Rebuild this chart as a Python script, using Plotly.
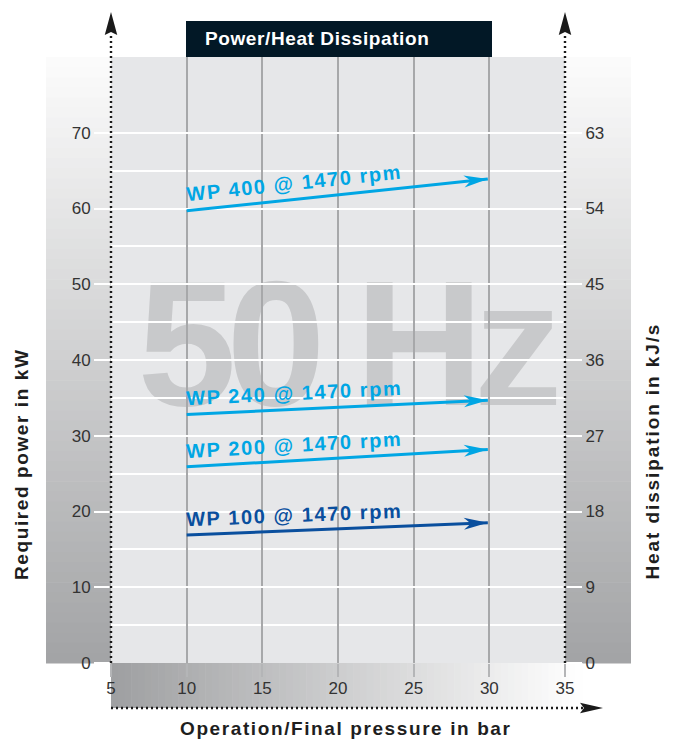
import math
import plotly.graph_objects as go

# ---------------- data ----------------
x_ticks = [5, 10, 15, 20, 25, 30, 35]
power_ticks = [0, 10, 20, 30, 40, 50, 60, 70]
power_minor = [5, 15, 25, 35, 45, 55, 65]
heat_ticks = [0, 9, 18, 27, 36, 45, 54, 63]

series_names = ["WP 400 @ 1470 rpm", "WP 240 @ 1470 rpm",
                "WP 200 @ 1470 rpm", "WP 100 @ 1470 rpm"]
pressure_start = [10, 10, 10, 10]
pressure_end = [29.9, 29.9, 29.9, 29.9]
power_start = [59.7, 32.8, 25.9, 16.9]
power_end = [63.9, 34.7, 28.2, 18.5]

chart_title = "Power/Heat Dissipation"
watermark = "50 Hz"
x_title = "Operation/Final pressure in bar"
y_title = "Required power in kW"
y2_title = "Heat dissipation in kJ/s"

# ---------------- style / layout (screen pixels) ----------------
series_colors = ["#00a6e4", "#00a6e4", "#00a6e4", "#0a4f9e"]
OFF = 8                      # page body margin
SCREEN_W, SCREEN_H = 675, 740
W, H = SCREEN_W - OFF, SCREEN_H - OFF
PLOT_L, PLOT_R, PLOT_T, PLOT_B = 111, 565, 57, 663
ML, MT = PLOT_L - OFF, PLOT_T - OFF
MR, MB = SCREEN_W - PLOT_R, SCREEN_H - PLOT_B
PW, PH = PLOT_R - PLOT_L, PLOT_B - PLOT_T
X_RANGE = [5, 35]
Y_RANGE = [0, 80]
Y2_RANGE = [0, 72]
SX = PW / (X_RANGE[1] - X_RANGE[0])
SY = PH / (Y_RANGE[1] - Y_RANGE[0])
FONT = "Liberation Sans, Arial, Roboto, sans-serif"
LABEL_X = 17.1


def xp(px):
    return (px - PLOT_L) / PW


def yp(py):
    return (PLOT_B - py) / PH


def mix(c1, c2, t):
    return "rgb(%d,%d,%d)" % tuple(round(a + (b - a) * t) for a, b in zip(c1, c2))


def head_path(theta, L, Wd, N):
    pts = [(0, 0), (-L, Wd / 2), (-N, 0), (-L, -Wd / 2)]
    c, s = math.cos(theta), math.sin(theta)
    rp = [(x * c - y * s, x * s + y * c) for x, y in pts]
    return "M " + " L ".join("%.2f,%.2f" % p for p in rp) + " Z"


def spaced(text, ls):
    return '<span style="letter-spacing:%.1fpx">%s</span>' % (ls, text)


shapes = []
# side gradient strips
N = 60
top_c, bot_c = (252, 252, 252), (162, 163, 165)
for i in range(N):
    y0 = PLOT_T + PH * i / N
    y1 = PLOT_T + PH * (i + 1) / N + 0.6
    col = mix(top_c, bot_c, (i + 0.5) / N)
    for xa, xb in [(46, PLOT_L), (PLOT_R, 631)]:
        shapes.append(dict(type="rect", xref="paper", yref="paper",
                           x0=xp(xa), x1=xp(xb), y0=yp(y0), y1=yp(y1),
                           fillcolor=col, line=dict(width=0), layer="below"))
# bottom band gradient
NB = 70
lc, rc = (158, 159, 161), (255, 255, 255)
for i in range(NB):
    xa = PLOT_L + (582 - PLOT_L) * i / NB
    xb = PLOT_L + (582 - PLOT_L) * (i + 1) / NB + 0.6
    shapes.append(dict(type="rect", xref="paper", yref="paper",
                       x0=xp(xa), x1=xp(xb), y0=yp(PLOT_B), y1=yp(708),
                       fillcolor=mix(lc, rc, (i + 0.5) / NB), line=dict(width=0),
                       layer="below"))
# watermark
shapes.append(dict(type="rect", xref="paper", yref="paper",
                   x0=xp(140), x1=xp(550), y0=yp(426), y1=yp(226),
                   fillcolor="rgba(0,0,0,0)", line=dict(width=0), layer="below",
                   label=dict(text=spaced(watermark, -10),
                              font=dict(family=FONT, size=178, color="#c8c9cb",
                                        weight="bold"),
                              textposition="middle center")))
# title box
shapes.append(dict(type="rect", xref="paper", yref="paper",
                   x0=xp(186), x1=xp(492), y0=yp(57), y1=yp(21),
                   fillcolor="#021826", line=dict(width=0), layer="above"))

# dotted axes
dot = dict(color="#1a1a1a", width=2.4, dash="2px,3px")
for xa in (PLOT_L, PLOT_R):
    shapes.append(dict(type="line", xref="paper", yref="paper",
                       x0=xp(xa), x1=xp(xa), y0=0, y1=yp(33), line=dot, layer="above"))
    shapes.append(dict(type="path", xref="paper", yref="paper",
                       xsizemode="pixel", ysizemode="pixel",
                       xanchor=xp(xa), yanchor=yp(12),
                       path=head_path(math.pi / 2, 23, 12.5, 20),
                       fillcolor="#1a1a1a", line=dict(width=0), layer="above"))
shapes.append(dict(type="line", xref="paper", yref="paper",
                   x0=0, x1=xp(583), y0=yp(708), y1=yp(708), line=dot, layer="above"))
shapes.append(dict(type="path", xref="paper", yref="paper",
                   xsizemode="pixel", ysizemode="pixel",
                   xanchor=xp(603), yanchor=yp(708),
                   path=head_path(0, 23, 10.5, 19),
                   fillcolor="#1a1a1a", line=dict(width=0), layer="above"))

fig = go.Figure()
annotations = []
for name, xs, xe, ys, ye, col in zip(series_names, pressure_start, pressure_end,
                                     power_start, power_end, series_colors):
    fig.add_trace(go.Scatter(x=[xs, xe], y=[ys, ye], mode="lines",
                             line=dict(color=col, width=3), hoverinfo="skip",
                             showlegend=False))
    theta = math.atan2((ye - ys) * SY, (xe - xs) * SX)
    shapes.append(dict(type="path", xref="x", yref="y",
                       xsizemode="pixel", ysizemode="pixel",
                       xanchor=xe, yanchor=ye,
                       path=head_path(theta, 24, 12, 17),
                       fillcolor=col, line=dict(width=0), layer="above"))
    ymid = ys + (ye - ys) * (LABEL_X - xs) / (xe - xs)
    annotations.append(dict(x=LABEL_X, y=ymid, xref="x", yref="y",
                            text=spaced(name, 1.6), showarrow=False,
                            textangle=-math.degrees(theta), yshift=16,
                            xanchor="center", yanchor="middle",
                            font=dict(family=FONT, size=20, color=col,
                                      weight="bold")))

# invisible trace on secondary axis
fig.add_trace(go.Scatter(x=[X_RANGE[0]], y=[0], yaxis="y2", mode="markers",
                         marker=dict(opacity=0), hoverinfo="skip", showlegend=False))

bold19 = dict(family=FONT, size=19, color="#1e1e1e", weight="bold")
annotations += [
    dict(x=xp(203), y=yp(39), xref="paper", yref="paper", showarrow=False,
         text=spaced(chart_title, 0.6), xanchor="left", yanchor="middle",
         font=dict(family=FONT, size=19, color="white", weight="bold")),
    dict(x=xp(21), y=yp(582), xref="paper", yref="paper", showarrow=False,
         text=spaced(y_title, 1.65), textangle=-90, xanchor="center",
         yanchor="bottom", font=bold19),
    dict(x=xp(652), y=yp(582), xref="paper", yref="paper", showarrow=False,
         text=spaced(y2_title, 1.9), textangle=-90, xanchor="center",
         yanchor="bottom", font=bold19),
    dict(x=xp(346), y=yp(728), xref="paper", yref="paper", showarrow=False,
         text=spaced(x_title, 1.6), xanchor="center", yanchor="middle",
         font=bold19),
]

tickfont = dict(family=FONT, size=17, color="#333333")
fig.update_layout(
    width=W, height=H, margin=dict(l=ML, r=MR, t=MT, b=MB, pad=0),
    paper_bgcolor="white", plot_bgcolor="#e6e7e9",
    showlegend=False, shapes=shapes, annotations=annotations,
    xaxis=dict(range=X_RANGE, tickmode="array", tickvals=x_ticks,
               showgrid=True, gridcolor="#a7a8aa", gridwidth=2,
               ticks="outside", ticklen=13, tickwidth=2, tickcolor="#b4b5b7",
               ticklabelstandoff=-3,
               tickfont=tickfont, zeroline=False, showline=False, fixedrange=True),
    yaxis=dict(range=Y_RANGE, tickmode="array", tickvals=power_ticks,
               showgrid=True, gridcolor="white", gridwidth=2,
               ticks="outside", ticklen=16, tickwidth=2, tickcolor="white",
               minor=dict(tickmode="array", tickvals=power_minor, showgrid=True,
                          gridcolor="white", gridwidth=2, ticks=""),
               tickfont=tickfont, zeroline=False, showline=False, fixedrange=True),
    yaxis2=dict(range=Y2_RANGE, overlaying="y", side="right", tickmode="array",
                tickvals=heat_ticks, showgrid=False, ticks="outside", ticklen=16,
                tickwidth=2, tickcolor="white", tickfont=tickfont,
                zeroline=False, showline=False, fixedrange=True),
)

fig.write_html("out.html")
